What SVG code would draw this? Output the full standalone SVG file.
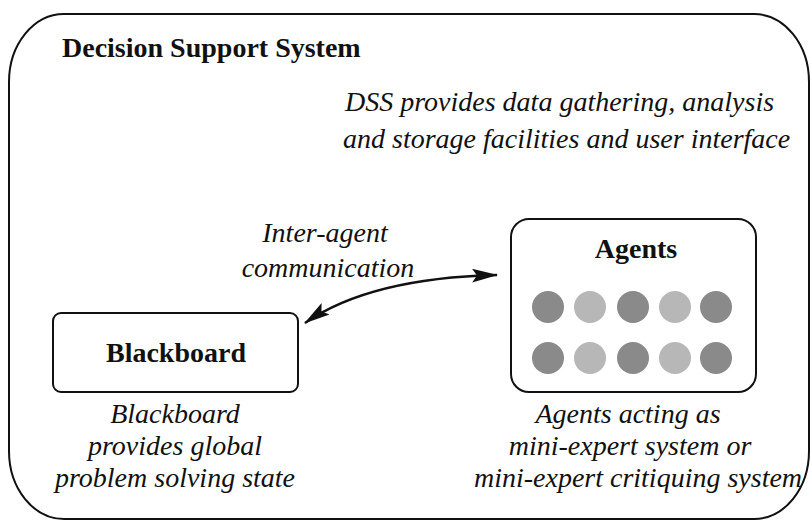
<svg xmlns="http://www.w3.org/2000/svg" width="812" height="524" viewBox="0 0 812 524">
<style>
text{font-family:"Liberation Serif","Times New Roman",serif;fill:#111;font-size:28px}
.b{font-weight:bold}
.i{font-style:italic}
.box{fill:none;stroke:#111;stroke-width:2}
.dk{fill:#8a8a8a}
.lt{fill:#b7b7b7}
</style>
<defs>
<marker id="ah" viewBox="0 0 26 14" refX="25" refY="7" markerWidth="26" markerHeight="14" markerUnits="userSpaceOnUse" orient="auto-start-reverse">
<path d="M0,0 L26,7 L0,14 L5,7 Z" fill="#111"/>
</marker>
</defs>
<g id="dss">
<rect class="box" x="9" y="14" width="800" height="505" rx="55" ry="68"/>
<text class="b" x="62" y="57">Decision Support System</text>
<text class="i" x="345" y="111">DSS provides data gathering, analysis</text>
<text class="i" x="343" y="148">and storage facilities and user interface</text>
</g>
<g id="blackboard">
<rect class="box" x="53" y="313" width="245" height="79" rx="8" ry="8"/>
<text class="b" x="176" y="362" text-anchor="middle">Blackboard</text>
<text class="i" x="175" y="423" text-anchor="middle">Blackboard</text>
<text class="i" x="175" y="455" text-anchor="middle">provides global</text>
<text class="i" x="175" y="487" text-anchor="middle">problem solving state</text>
</g>
<g id="agents">
<rect class="box" x="511" y="219" width="245" height="173" rx="18" ry="18"/>
<text class="b" x="636" y="258" text-anchor="middle">Agents</text>
<circle class="dk" cx="548" cy="307" r="16"/>
<circle class="lt" cx="590" cy="307" r="16"/>
<circle class="dk" cx="633" cy="307" r="16"/>
<circle class="lt" cx="675" cy="307" r="16"/>
<circle class="dk" cx="716" cy="307" r="16"/>
<circle class="dk" cx="548" cy="358" r="16"/>
<circle class="lt" cx="590" cy="358" r="16"/>
<circle class="dk" cx="633" cy="358" r="16"/>
<circle class="lt" cx="675" cy="358" r="16"/>
<circle class="dk" cx="716" cy="358" r="16"/>
<text class="i" x="628" y="423" text-anchor="middle">Agents acting as</text>
<text class="i" x="630" y="455" text-anchor="middle">mini-expert system or</text>
<text class="i" x="638" y="487" text-anchor="middle">mini-expert critiquing system</text>
</g>
<g id="connectors">
<path d="M305,323 Q370,278 497,275" fill="none" stroke="#111" stroke-width="2.5" marker-start="url(#ah)" marker-end="url(#ah)"/>
<text class="i" x="325" y="242" text-anchor="middle">Inter-agent</text>
<text class="i" x="328" y="277" text-anchor="middle">communication</text>
</g>
</svg>
